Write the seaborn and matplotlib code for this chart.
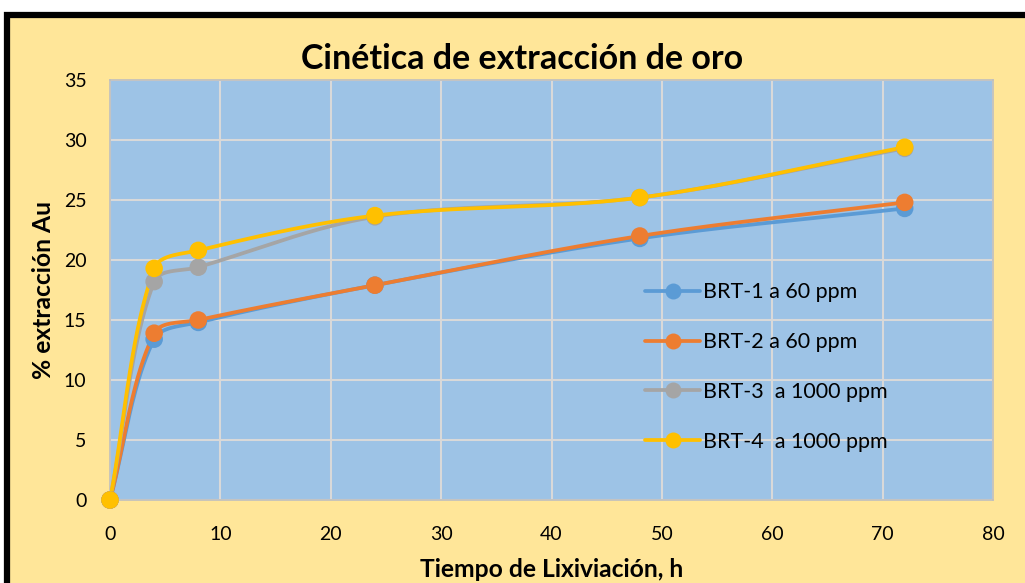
import numpy as np
import pandas as pd
import matplotlib
matplotlib.use("Agg")
import matplotlib.pyplot as plt
from matplotlib.lines import Line2D
from matplotlib.patches import Rectangle
import seaborn as sns

# Leaching times (h) and gold extraction (%) for each test
tiempo = [0, 4, 8, 24, 48, 72]
brt1 = [0, 13.4, 14.8, 17.9, 21.8, 24.3]
brt2 = [0, 13.9, 15.0, 17.9, 22.0, 24.8]
brt3 = [0, 18.2, 19.4, 23.6, 25.2, 29.3]
brt4 = [0, 19.3, 20.8, 23.7, 25.2, 29.4]
series_names = ["BRT-1 a 60 ppm", "BRT-2 a 60 ppm", "BRT-3  a 1000 ppm", "BRT-4  a 1000 ppm"]
colors = ["#5B9BD5", "#ED7D31", "#A5A5A5", "#FFC000"]
x_ticks = list(range(0, 90, 10))
y_ticks = list(range(0, 40, 5))


def smooth_curve(xs, ys, n=40, sx=11.0, sy=12.0):
    """Cubic Bezier smoothing through the points, with tangents scaled by
    neighbouring segment lengths so the curve does not overshoot."""
    pts = np.column_stack([np.asarray(xs, float) * sx, np.asarray(ys, float) * sy])
    npts = len(pts)

    def handle(i, j):
        # control offset at point i towards neighbour j
        prev_p = pts[i - 1] if i > 0 else pts[i]
        next_p = pts[i + 1] if i < npts - 1 else pts[i]
        m = next_p - prev_p
        d_prev = np.linalg.norm(pts[i] - prev_p)
        d_next = np.linalg.norm(next_p - pts[i])
        tot = d_prev + d_next
        if tot == 0:
            return np.zeros(2)
        d_seg = d_next if j > i else d_prev
        return m * (d_seg / tot) / 3.0

    out = []
    for i in range(npts - 1):
        p1, p2 = pts[i], pts[i + 1]
        c1 = p1 + handle(i, i + 1)
        c2 = p2 - handle(i + 1, i)
        t = np.linspace(0, 1, n)[:, None]
        seg = ((1 - t) ** 3) * p1 + 3 * ((1 - t) ** 2) * t * c1 + 3 * (1 - t) * t ** 2 * c2 + t ** 3 * p2
        if i > 0:
            seg = seg[1:]
        out.append(seg)
    out = np.vstack(out)
    return out[:, 0] / sx, out[:, 1] / sy


sns.set_theme(style="white")
plt.rcParams["font.family"] = ["Lato", "DejaVu Sans"]
plt.rcParams["text.color"] = "black"
plt.rcParams["axes.labelcolor"] = "black"

fig = plt.figure(figsize=(10.25, 5.83), dpi=100, facecolor="white")
fig.patches.append(Rectangle((7 / 1025, -0.05), 1.1, (583 - 15) / 583 + 0.05,
                             transform=fig.transFigure, facecolor="#FFE699",
                             edgecolor="black", linewidth=4.5, zorder=-5))

ax = fig.add_axes([110 / 1025, 1 - 500 / 583, (993 - 110) / 1025, (500 - 80) / 583])
ax.set_zorder(2)
ax.set_facecolor("#9DC3E6")

all_series = [brt1, brt2, brt3, brt4]
for name, vals, col in zip(series_names, all_series, colors):
    sx, sy = smooth_curve(tiempo, vals)
    sns.lineplot(x=sx, y=sy, ax=ax, color=col, linewidth=2.7, sort=False,
                 estimator=None, legend=False, zorder=3)
    sns.scatterplot(x=tiempo, y=vals, ax=ax, color=col, s=160, edgecolor="none",
                    legend=False, zorder=4, clip_on=False)

ax.set_xlim(0, 80)
ax.set_ylim(0, 35)
ax.set_xticks(x_ticks)
ax.set_yticks(y_ticks)
ax.tick_params(axis="both", which="major", labelsize=14, length=0, colors="black")
ax.tick_params(axis="y", which="major", pad=17)
ax.tick_params(axis="x", which="major", pad=18.5)
ax.grid(True, color="#D9D9D9", linewidth=1.5)
ax.set_axisbelow(True)
for sp in ax.spines.values():
    sp.set_color("#BFBFBF")
    sp.set_linewidth(1.2)

ax.set_xlabel("Tiempo de Lixiviación, h", fontsize=17.7, fontweight="bold", labelpad=11)
ax.set_ylabel("% extracción Au", fontsize=17.7, fontweight="bold", labelpad=6)
fig.text(522 / 1025, 1 - 59 / 583, "Cinética de extracción de oro", ha="center", va="center",
         fontsize=24.5, fontweight="bold", color="black")

handles = [Line2D([0], [0], color=c, linewidth=2.7, marker="o", markersize=11.5,
                  markeredgewidth=0) for c in colors]
leg = ax.legend(handles, series_names, loc="upper left", bbox_to_anchor=(0.606, 0.518),
                frameon=False, fontsize=15.5, handlelength=2.55, handletextpad=0.15,
                labelspacing=1.38, borderpad=0, borderaxespad=0)

fig.savefig("out.png", dpi=100, facecolor="white")
